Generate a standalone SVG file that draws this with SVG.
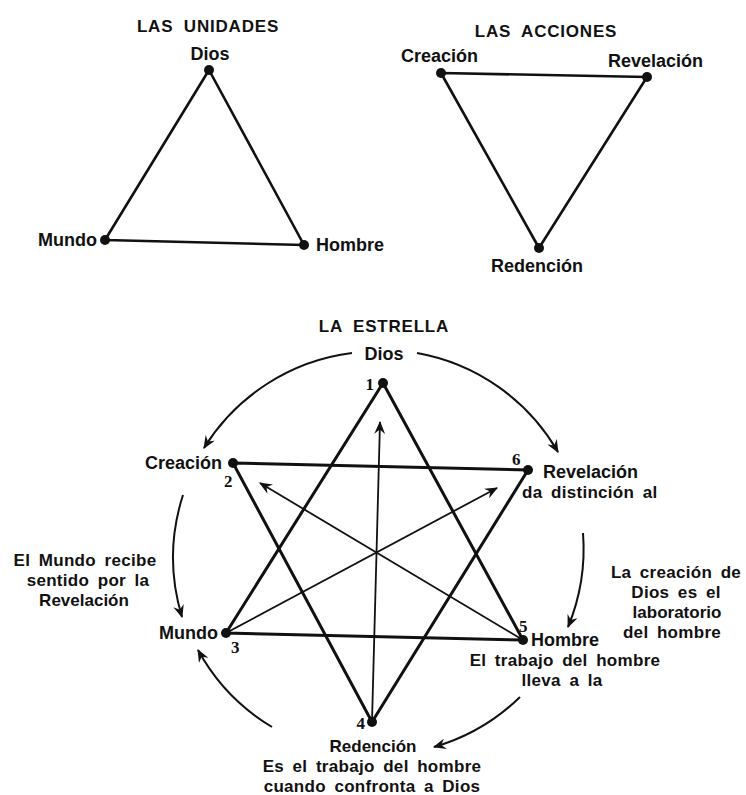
<svg xmlns="http://www.w3.org/2000/svg" width="746" height="795" viewBox="0 0 746 795">
<defs>
<style>
text{font-family:"Liberation Sans",Arial,sans-serif;font-weight:bold;font-size:18px;fill:#111}
.t{font-size:17px;letter-spacing:0.8px;word-spacing:5px}
.s{font-size:17px}
.n{font-family:"Liberation Serif","Times New Roman",serif;font-size:17px;font-weight:bold}
.m{text-anchor:middle}
.e{text-anchor:end}
.w{word-spacing:3.5px;letter-spacing:0.3px}
.tri{stroke:#111;stroke-width:2.6;fill:none;stroke-linejoin:round}
.star{stroke:#111;stroke-width:3;fill:none}
.arr{stroke:#111;stroke-width:1.8;fill:none;marker-end:url(#ah)}
.arc{stroke:#111;stroke-width:2;fill:none;marker-end:url(#ah)}
.dot{fill:#111}
</style>
<marker id="ah" viewBox="0 0 12 10" refX="11" refY="5" markerWidth="13" markerHeight="11" markerUnits="userSpaceOnUse" orient="auto">
<path d="M0,0 L12,5 L0,10 L4,5 z" fill="#111"/>
</marker>
</defs>
<rect width="746" height="795" fill="#fff"/>

<g id="unidades">
<text class="t m" x="208" y="32">LAS UNIDADES</text>
<polygon class="tri" points="209,70 105,240 304,245"/>
<g id="u-dios"><circle class="dot" cx="209" cy="70" r="5"/><text class="m" x="210" y="60">Dios</text></g>
<g id="u-mundo"><circle class="dot" cx="105" cy="240" r="5"/><text class="e" x="97" y="246">Mundo</text></g>
<g id="u-hombre"><circle class="dot" cx="304" cy="245" r="5"/><text x="316" y="251">Hombre</text></g>
</g>

<g id="acciones">
<text class="t m" x="546" y="37">LAS ACCIONES</text>
<polygon class="tri" points="441,73 647,77 539,248"/>
<g id="a-creacion"><circle class="dot" cx="441" cy="73" r="5"/><text x="401" y="62">Creación</text></g>
<g id="a-revelacion"><circle class="dot" cx="647" cy="77" r="5"/><text x="608" y="67">Revelación</text></g>
<g id="a-redencion"><circle class="dot" cx="539" cy="248" r="5"/><text class="m" x="537" y="272">Redención</text></g>
</g>

<g id="estrella">
<text class="t m" x="384" y="332">LA ESTRELLA</text>
<g id="connectors">
<polygon class="star" points="383,383 226,633 523,640"/>
<polygon class="star" points="233,463 528,470 372,722"/>
<line class="arr" x1="372" y1="722" x2="380" y2="422"/>
<line class="arr" x1="523" y1="640" x2="260" y2="483"/>
<line class="arr" x1="226" y1="633" x2="497" y2="488"/>
<path class="arc" d="M352,353 A204,204 0 0 0 204,448"/>
<path class="arc" d="M417,353 A204,204 0 0 1 558,452"/>
<path class="arc" d="M583,533 A204,204 0 0 1 568,627"/>
<path class="arc" d="M520,697 A204,204 0 0 1 434,747"/>
<path class="arc" d="M272,727 A204,204 0 0 1 198,650"/>
<path class="arc" d="M183,495 A204,204 0 0 0 182,617"/>
</g>
<g id="s-dios"><text class="m" x="384" y="360">Dios</text></g>
<g id="n1"><circle class="dot" cx="383" cy="383" r="5"/><text class="n e" x="374" y="390">1</text></g>
<g id="n2"><circle class="dot" cx="233" cy="463" r="5"/><text class="e" x="222" y="469">Creación</text><text class="n" x="224" y="487">2</text></g>
<g id="n6"><circle class="dot" cx="528" cy="470" r="5"/><text class="n" x="512" y="465">6</text><text x="543" y="478">Revelación</text><text class="w s" x="522" y="498">da distinción al</text></g>
<g id="n3"><circle class="dot" cx="226" cy="633" r="5"/><text class="e" x="218" y="639">Mundo</text><text class="n" x="231" y="653">3</text></g>
<g id="n5"><circle class="dot" cx="523" cy="640" r="5"/><text class="n" x="519" y="632">5</text><text x="531" y="646">Hombre</text><text class="m w s" x="565" y="666">El trabajo del hombre</text><text class="m w s" x="562" y="686">lleva a la</text></g>
<g id="n4"><circle class="dot" cx="372" cy="722" r="5"/><text class="n e" x="365" y="729">4</text><text class="m s" x="373" y="752">Redención</text><text class="m w s" x="372" y="772">Es el trabajo del hombre</text><text class="m w s" x="372" y="792">cuando confronta a Dios</text></g>
<g id="note-left"><text class="m w s" x="85" y="566">El Mundo recibe</text><text class="m w s" x="88" y="586">sentido por la</text><text class="m s" x="84" y="606">Revelación</text></g>
<g id="note-right"><text class="m w s" x="676" y="578">La creación de</text><text class="m w s" x="676" y="598">Dios es el</text><text class="m s" x="677" y="618">laboratorio</text><text class="m w s" x="672" y="638">del hombre</text></g>
</g>
</svg>
